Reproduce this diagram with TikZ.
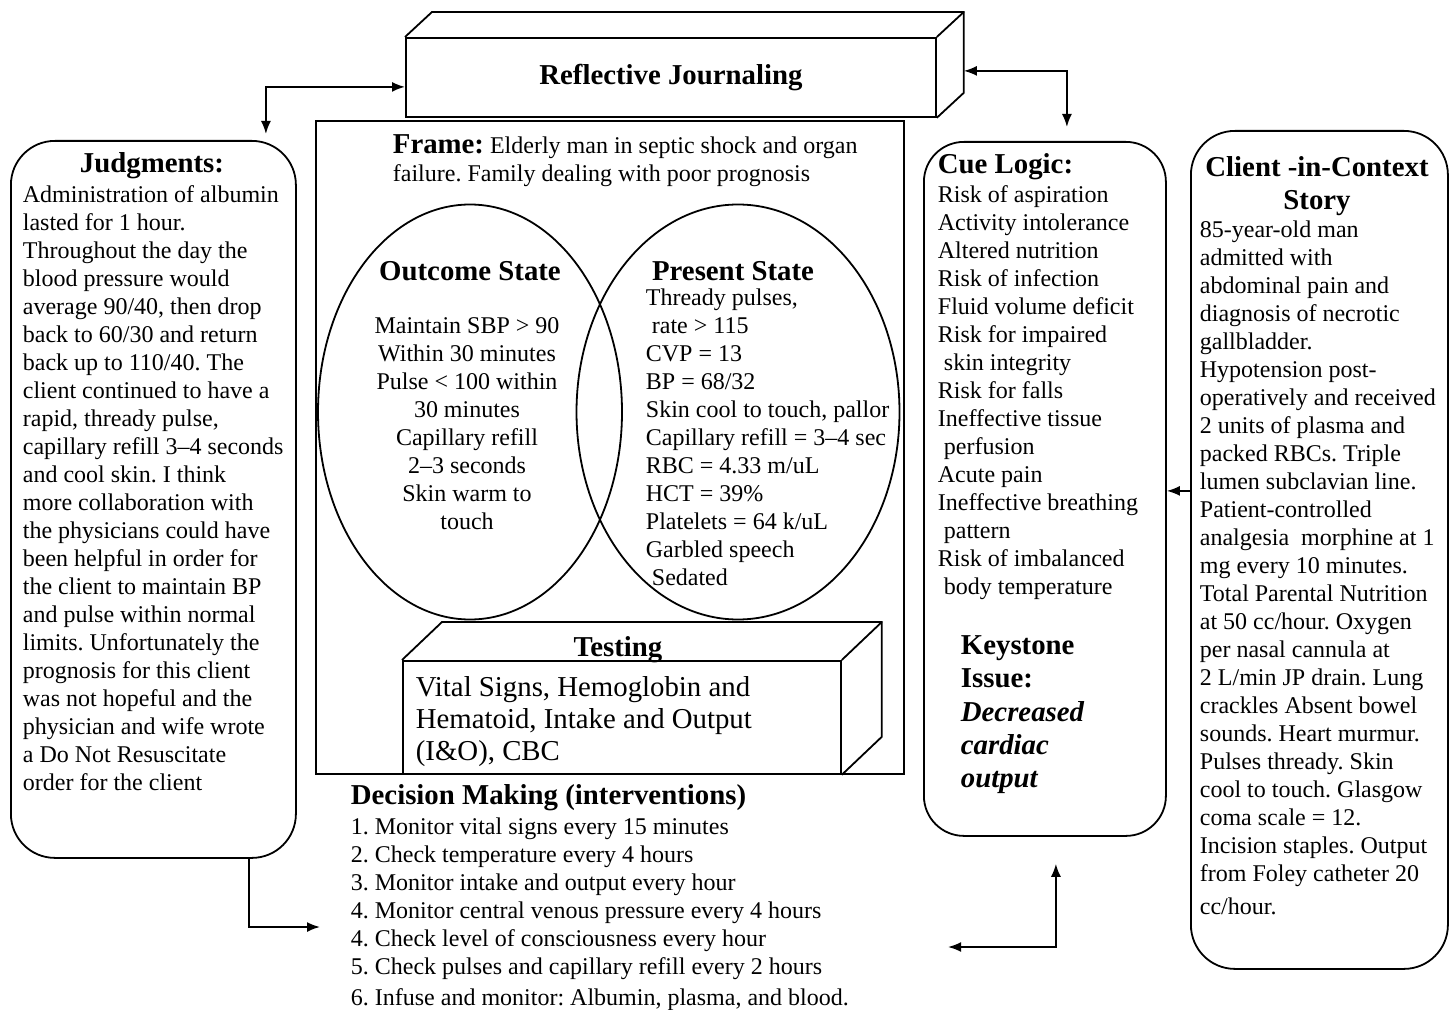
\documentclass[tikz,border=0pt]{standalone}
\usepackage{fontspec}
\setmainfont{Liberation Serif}
\frenchspacing
\usetikzlibrary{positioning,shapes.geometric,arrows.meta}

% front face is a node, top and side are drawn from its anchors
\def\cuboid#1#2{
  \draw (#1.north west) -- ++#2 -| ([shift={#2}]#1.south east) -- (#1.south east);
  \draw (#1.north east) -- ++#2;
}

\begin{document}
\begin{tikzpicture}[x=0.5pt, y=-0.5pt,
  line width=0.9pt,
  >={Latex[length=6.5pt,width=5pt]},
  face/.style = {draw, inner sep=0pt, anchor=north west},
  rbox/.style = {draw, rounded corners=22pt, inner sep=0pt, anchor=north west},
  oval/.style = {draw, ellipse, inner sep=0pt},
  txt/.style = {inner sep=0pt, anchor=north west, align=left
    , font=\fontsize{12}{14}\selectfont},
  ttl/.style = {inner sep=0pt, font=\fontsize{14.4}{16.5}\selectfont\bfseries}]

 \useasboundingbox (0,0) rectangle (1450,1010);

 %% reflective journaling
 \node[face, minimum width=265pt, minimum height=39.5pt, ttl, anchor=north west
   , draw] (rj) at (405,37) {Reflective Journaling};
 \cuboid{rj}{(27,-25)}

 %% frame with the two states
 \node[face, minimum width=294pt, minimum height=326.5pt] (frame) at (315,120) {};
 \node[txt] (frametxt) at (392,134)
   {{\fontsize{14.4}{14}\selectfont\bfseries Frame:} Elderly man in septic shock and organ\\
    failure. Family dealing with poor prognosis};

 \node[oval, minimum width=152pt, minimum height=207.5pt] (outc) at (470,412) {};
 \node[oval, minimum width=161.5pt, minimum height=207.5pt] (pres) at (738,412) {};

 \node[ttl] (outcttl) at (470,271) {Outcome State};
 \node[txt, align=center, anchor=north] (outctxt) at (467,317)
   {Maintain SBP > 90\\ Within 30 minutes\\ Pulse < 100 within\\ 30 minutes\\
    Capillary refill\\ 2--3 seconds\\ Skin warm to\\ touch};

 \node[ttl] (presttl) at (733,271) {Present State};
 \node[txt] (prestxt) at (645,288)
   {Thready pulses,\\ \hspace*{3pt}rate > 115\\ CVP = 13\\ BP = 68/32\\
    Skin cool to touch, pallor\\ Capillary refill = 3--4 sec\\ RBC = 4.33 m/uL\\
    HCT = 39\%\\ Platelets = 64 k/uL\\ Garbled speech\\ \hspace*{3pt}Sedated};

 %% testing
 \node[face, minimum width=219pt, minimum height=56.5pt] (test) at (402,660) {};
 \cuboid{test}{(40,-38)}
 \node[ttl] (testttl) at (618,650) {Testing};
 \node[txt, font=\fontsize{14.4}{16}\selectfont] (testtxt) at (415,676)
   {Vital Signs, Hemoglobin and\\ Hematoid, Intake and Output\\ (I\&O), CBC};

 %% judgments
 \node[rbox, minimum width=142.5pt, minimum height=358.5pt] (judg) at (10,140) {};
 \node[ttl] (judgttl) at (152,166) {Judgments:};
 \node[txt] (judgtxt) at (22,185)
   {Administration of albumin\\ lasted for 1 hour.\\ Throughout the day the\\
    blood pressure would\\ average 90/40, then drop\\ back to 60/30 and return\\
    back up to 110/40. The\\ client continued to have a\\ rapid, thready pulse,\\
    capillary refill 3--4 seconds\\ and cool skin. I think\\ more collaboration with\\
    the physicians could have\\ been helpful in order for\\ the client to maintain BP\\
    and pulse within normal\\ limits. Unfortunately the\\ prognosis for this client\\
    was not hopeful and the\\ physician and wife wrote\\ a Do Not Resuscitate\\
    order for the client};

 %% cue logic
 \node[rbox, minimum width=121pt, minimum height=347pt, rounded corners=20pt] (cue) at (923,141) {};
 \node[ttl, anchor=west] (cuettl) at (937,167) {Cue Logic:};
 \node[txt] (cuetxt) at (937,185)
   {Risk of aspiration\\ Activity intolerance\\ Altered nutrition\\ Risk of infection\\
    Fluid volume deficit\\ Risk for impaired\\ \hspace*{3pt}skin integrity\\ Risk for falls\\
    Ineffective tissue\\ \hspace*{3pt}perfusion\\ Acute pain\\ Ineffective breathing\\
    \hspace*{3pt}pattern\\ Risk of imbalanced\\ \hspace*{3pt}body temperature};
 \node[txt, font=\fontsize{14.4}{16.6}\selectfont\bfseries] (keytxt) at (960,635)
   {Keystone\\ Issue:\\ \itshape Decreased\\ \itshape cardiac\\ \itshape output};

 %% client story
 \node[rbox, minimum width=128.5pt, minimum height=419pt] (client) at (1190,130) {};
 \node[ttl, align=center, anchor=north] (clientttl) at (1317,155.5)
   {Client -in-Context\\ Story};
 \node[txt] (clienttxt) at (1199,220)
   {85-year-old man\\ admitted with\\ abdominal pain and\\ diagnosis of necrotic\\
    gallbladder.\\ Hypotension post-\\ operatively and received\\ 2 units of plasma and\\
    packed RBCs. Triple\\ lumen subclavian line.\\ Patient-controlled\\
    analgesia\ \ morphine at 1\\ mg every 10 minutes.\\ Total Parental Nutrition\\
    at 50 cc/hour. Oxygen\\ per nasal cannula at\\ 2 L/min JP drain. Lung\\
    crackles Absent bowel\\ sounds. Heart murmur.\\ Pulses thready. Skin\\
    cool to touch. Glasgow\\ coma scale = 12.\\ Incision staples. Output\\
    from Foley catheter 20\\[2.5pt] cc/hour.};

 %% decision making
 \node[ttl, anchor=west] (dmttl) at (350,798) {Decision Making (interventions)};
 \node[txt] (dmtxt) at (350,817)
   {1. Monitor vital signs every 15 minutes\\ 2. Check temperature every 4 hours\\
    3. Monitor intake and output every hour\\ 4. Monitor central venous pressure every 4 hours\\
    4. Check level of consciousness every hour\\ 5. Check pulses and capillary refill every 2 hours\\[1.5pt]
    6. Infuse and monitor: Albumin, plasma, and blood.};
 \coordinate (dmin) at (320,927);
 \coordinate (dmout) at (948,947);

 \begin{scope}[->]
  \draw[<->] ([shift={(0,9.5)}]rj.west) -| ([shift={(112.5,-6)}]judg.north);
  \draw[<->] ([shift={(27,-6.5)}]rj.east) -| ([shift={(22,-14)}]cue.north);
  \draw ([shift={(0,-59)}]client.west) coordinate (c1) -- (c1 -| cue.east);
  \draw ([shift={(95.5,0)}]judg.south) |- (dmin);
  \draw[<->] ([shift={(11,27)}]cue.south) |- (dmout);
 \end{scope}
\end{tikzpicture}
\end{document}
